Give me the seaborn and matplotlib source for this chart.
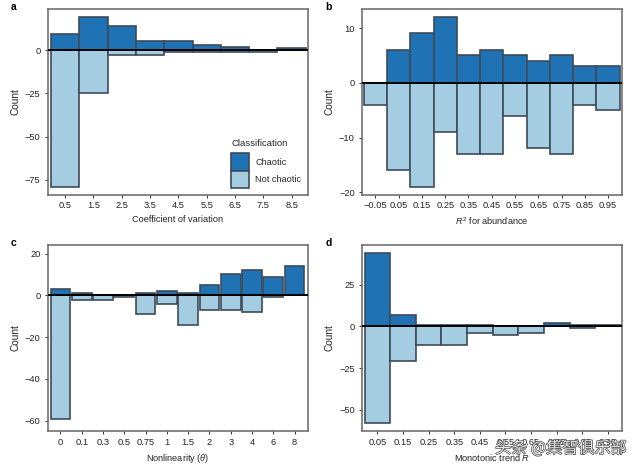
import pandas as pd
import matplotlib
matplotlib.use('Agg')
import matplotlib.pyplot as plt
import matplotlib.patheffects as pe
from matplotlib.patches import Patch
import seaborn as sns

cv_bins = ['0.5', '1.5', '2.5', '3.5', '4.5', '5.5', '6.5', '7.5', '8.5']
cv_chaotic = [9, 19, 14, 5, 5, 3, 2, 0, 1]
cv_not = [79, 25, 3, 3, 1, 1, 1, 1, 0]

r2_bins = ['\u22120.05', '0.05', '0.15', '0.25', '0.35', '0.45', '0.55', '0.65', '0.75', '0.85', '0.95']
r2_chaotic = [0, 6, 9, 12, 5, 6, 5, 4, 5, 3, 3]
r2_not = [4, 16, 19, 9, 13, 13, 6, 12, 13, 4, 5]

theta_bins = ['0', '0.1', '0.3', '0.5', '0.75', '1', '1.5', '2', '3', '4', '6', '8']
theta_chaotic = [3, 1, 0, 0, 1, 2, 1, 5, 10, 12, 9, 14]
theta_not = [59, 2, 2, 1, 9, 4, 14, 7, 7, 8, 1, 0]

trend_bins = ['0.05', '0.15', '0.25', '0.35', '0.45', '0.55', '0.65', '0.75', '0.85', '0.95']
trend_chaotic = [44, 7, 1, 1, 1, 0, 0, 2, 1, 1]
trend_not = [58, 21, 11, 11, 4, 5, 4, 0, 1, 0]

DARK = '#1f72b3'
LIGHT = '#a5cde2'
EDGE = '#3d4b5a'
W, H = 640, 471

sns.set_theme(style='white')
plt.rcParams['font.family'] = ['Liberation Sans', 'DejaVu Sans']
plt.rcParams['mathtext.fontset'] = 'custom'
plt.rcParams['mathtext.rm'] = 'Liberation Sans'
plt.rcParams['mathtext.it'] = 'Liberation Sans:italic'


def panel(fig, box, letter, bins, chaotic, not_chaotic, xlim, ylim, yticks, xlabel, width=1.0):
    left, top, right, bottom = box
    ax = fig.add_axes([left / W, 1 - bottom / H, (right - left) / W, (bottom - top) / H])
    df = pd.DataFrame({
        'bin': bins * 2,
        'count': list(chaotic) + [-v for v in not_chaotic],
        'Classification': ['Chaotic'] * len(bins) + ['Not chaotic'] * len(bins),
    })
    sns.barplot(data=df, x='bin', y='count', hue='Classification', order=bins,
                hue_order=['Chaotic', 'Not chaotic'], palette=[DARK, LIGHT], saturation=1,
                dodge=False, width=width, edgecolor=EDGE, linewidth=1.2,
                errorbar=None, legend=False, ax=ax)
    ax.axhline(0, color='black', lw=1.4, zorder=5)
    ax.set_xlim(*xlim)
    ax.set_ylim(*ylim)
    ax.set_yticks(yticks)
    ax.set_yticklabels([str(t).replace('-', '\u2212') for t in yticks])
    ax.tick_params(axis='both', length=2.5, width=0.7, color='#333333', labelsize=6.7,
                   labelcolor='#222222', pad=2.5, bottom=True, left=True)
    ax.set_xlabel(xlabel, fontsize=6.6, color='#222222', labelpad=3.5)
    ax.set_ylabel('Count', fontsize=7.2, color='#222222', labelpad=3)
    for s in ax.spines.values():
        s.set_color('#666666')
        s.set_linewidth(1.1)
    fig.text((left - 36.5) / W, 1 - (top - 2.5) / H, letter, fontsize=7.5, fontweight='bold',
             color='black', va='center')
    return ax


fig = plt.figure(figsize=(6.4, 4.71), dpi=100)

ax_a = panel(fig, (47.5, 9, 307.5, 194.5), 'a', cv_bins, cv_chaotic, cv_not,
             (-0.62, 8.56), (-83.4, 23.7), [0, -25, -50, -75], 'Coefficient of variation')
panel(fig, (361.7, 9, 622.3, 194.5), 'b', r2_bins, r2_chaotic, r2_not,
      (-0.59, 10.61), (-20.4, 13.47), [10, 0, -10, -20], '$R^2$ for abundance')
panel(fig, (47.5, 245, 307.5, 431), 'c', theta_bins, theta_chaotic, theta_not,
      (-0.61, 11.61), (-64.9, 24.1), [20, 0, -20, -40, -60], 'Nonlinearity ($\\mathit{\u03b8}$)', width=0.93)
panel(fig, (361.7, 245, 622.3, 431), 'd', trend_bins, trend_chaotic, trend_not,
      (-0.61, 9.56), (-62.8, 48.8), [25, 0, -25, -50], 'Monotonic trend $R$')

handles = [Patch(facecolor=DARK, edgecolor=EDGE, linewidth=1.2, label='Chaotic'),
           Patch(facecolor=LIGHT, edgecolor=EDGE, linewidth=1.2, label='Not chaotic')]
leg = ax_a.legend(handles=handles, title='Classification', loc='lower right', frameon=False,
                  fontsize=6.6, title_fontsize=6.8, handlelength=1.95, handleheight=2.55,
                  labelspacing=0, handletextpad=0.65, borderaxespad=0.4, borderpad=0.3)
leg._legend_box.align = 'left'
leg._legend_box.sep = 4

# watermark sitting over panel d's tick labels
wm = fig.text(495 / W, 1 - 448.5 / H, '\u5934\u6761 @\u96c6\u667a\u4ff1\u4e50\u90e8', fontsize=11.6,
              family=['Noto Sans CJK SC', 'DejaVu Sans'], color='#e8e8e8', va='center')
wm.set_path_effects([pe.withStroke(linewidth=0.9, foreground='#444444')])

fig.savefig('out.png', dpi=100)
